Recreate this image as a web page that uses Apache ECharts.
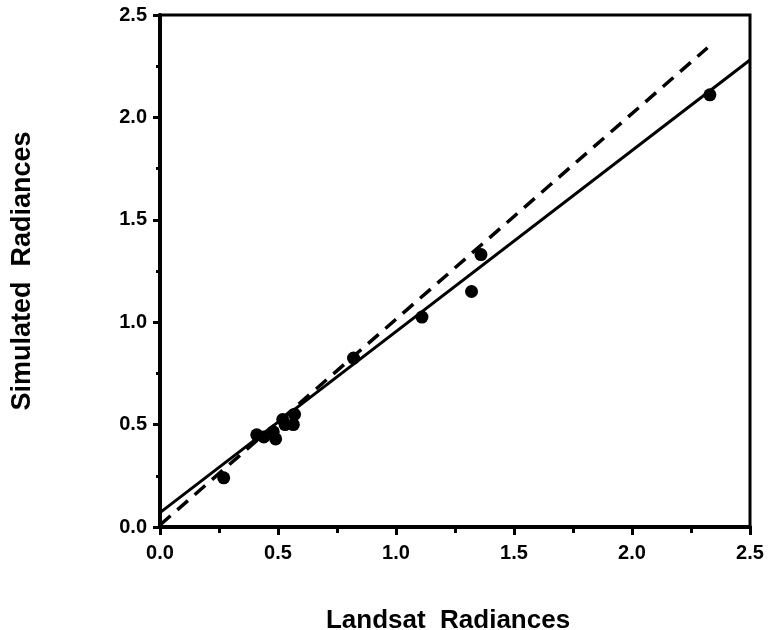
<!DOCTYPE html>
<html>
<head>
<meta charset="utf-8">
<script src="https://cdn.jsdelivr.net/npm/echarts@6/dist/echarts.min.js"></script>
<style>
  html, body { margin: 0; padding: 0; background: #fff; }
  #chart { width: 769px; height: 630px; }
</style>
</head>
<body>
<div id="chart"></div>
<script>
// observed points (Landsat, Simulated)
const landsat = [0.27, 0.41, 0.44, 0.48, 0.49, 0.52, 0.53, 0.565, 0.57, 0.82, 1.11, 1.32, 1.36, 2.33];
const simulated = [0.24, 0.45, 0.44, 0.465, 0.43, 0.525, 0.50, 0.50, 0.55, 0.825, 1.025, 1.15, 1.33, 2.11];

// regression fit (solid) and reference line (dashed), end points
const fitX = [0.0, 2.5];
const fitY = [0.07, 2.28];
const dashX = [0.0, 2.32];
const dashY = [0.01, 2.34];

const chart = echarts.init(document.getElementById("chart"));

const tickFont = { fontFamily: "Liberation Sans", fontWeight: "bold", fontSize: 20, color: "#000" };

const option = {
  animation: false,
  grid: {
    left: 160, right: 19, top: 15, bottom: 103,
    outerBoundsMode: "none", containLabel: false,
    show: true, borderColor: "#000", borderWidth: 3
  },
  xAxis: {
    type: "value", min: 0, max: 2.5, interval: 0.5,
    name: "Landsat  Radiances", nameLocation: "middle", nameGap: 81,
    nameMoveOverlap: false,
    nameTextStyle: {
      fontFamily: "Liberation Sans", fontWeight: "bold", fontSize: 26, color: "#000",
      padding: [0, 14, 0, 0]
    },
    axisLine: { show: true, lineStyle: { color: "#000", width: 4 } },
    axisTick: { show: true, length: 8, lineStyle: { color: "#000", width: 3 } },
    minorTick: { show: true, splitNumber: 2, length: 6, lineStyle: { color: "#000", width: 3 } },
    splitLine: { show: false },
    axisLabel: Object.assign({ margin: 16, formatter: v => v.toFixed(1) }, tickFont)
  },
  yAxis: {
    type: "value", min: 0, max: 2.5, interval: 0.5,
    name: "Simulated  Radiances", nameLocation: "middle", nameGap: 124, nameRotate: 90,
    nameMoveOverlap: false,
    nameTextStyle: { fontFamily: "Liberation Sans", fontWeight: "bold", fontSize: 27, color: "#000" },
    axisLine: { show: true, lineStyle: { color: "#000", width: 4 } },
    axisTick: { show: true, length: 7, lineStyle: { color: "#000", width: 3 } },
    minorTick: { show: true, splitNumber: 2, length: 4, lineStyle: { color: "#000", width: 3 } },
    splitLine: { show: false },
    axisLabel: Object.assign({ margin: 13, formatter: v => v.toFixed(1) }, tickFont)
  },
  series: [
    {
      type: "line", data: fitX.map((x, i) => [x, fitY[i]]),
      showSymbol: false, symbol: "none",
      lineStyle: { color: "#000", width: 3 }
    },
    {
      type: "line", data: dashX.map((x, i) => [x, dashY[i]]),
      showSymbol: false, symbol: "none",
      lineStyle: { color: "#000", width: 3.5, type: [14, 9] }
    },
    {
      type: "scatter", data: landsat.map((x, i) => [x, simulated[i]]),
      symbol: "circle", symbolSize: 13,
      itemStyle: { color: "#000", opacity: 1 }
    }
  ]
};

chart.setOption(option);
</script>
</body>
</html>
